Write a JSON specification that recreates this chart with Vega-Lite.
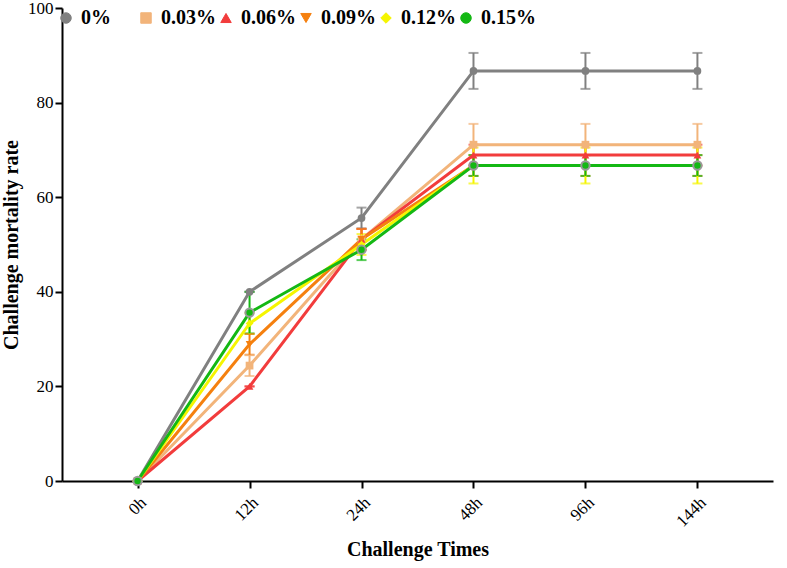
{
  "$schema": "https://vega.github.io/schema/vega-lite/v6.json",
  "width": 711,
  "height": 473,
  "autosize": {"type": "none"},
  "padding": {"left": 62, "top": 8, "right": 14, "bottom": 87},
  "background": "white",
  "config": {
    "view": {"stroke": null},
    "legend": {"labelFont": "Liberation Serif", "labelFontSize": 20, "labelFontWeight": "bold", "labelColor": "#000"}
  },
  "data": {"values": [
    {"series": "0%", "time": "0h", "mean": 0, "lo": 0, "hi": 0},
    {"series": "0%", "time": "12h", "mean": 40, "lo": 40, "hi": 40},
    {"series": "0%", "time": "24h", "mean": 55.6, "lo": 53.4, "hi": 57.8},
    {"series": "0%", "time": "48h", "mean": 86.7, "lo": 82.9, "hi": 90.5},
    {"series": "0%", "time": "96h", "mean": 86.7, "lo": 82.9, "hi": 90.5},
    {"series": "0%", "time": "144h", "mean": 86.7, "lo": 82.9, "hi": 90.5},
    {"series": "0.03%", "time": "0h", "mean": 0, "lo": 0, "hi": 0},
    {"series": "0.03%", "time": "12h", "mean": 24.4, "lo": 22.2, "hi": 26.6},
    {"series": "0.03%", "time": "24h", "mean": 51.1, "lo": 48.9, "hi": 53.3},
    {"series": "0.03%", "time": "48h", "mean": 71.1, "lo": 66.7, "hi": 75.5},
    {"series": "0.03%", "time": "96h", "mean": 71.1, "lo": 66.7, "hi": 75.5},
    {"series": "0.03%", "time": "144h", "mean": 71.1, "lo": 66.7, "hi": 75.5},
    {"series": "0.06%", "time": "0h", "mean": 0, "lo": 0, "hi": 0},
    {"series": "0.06%", "time": "12h", "mean": 20, "lo": 20, "hi": 20},
    {"series": "0.06%", "time": "24h", "mean": 51.1, "lo": 48.9, "hi": 53.3},
    {"series": "0.06%", "time": "48h", "mean": 68.9, "lo": 66.7, "hi": 71.1},
    {"series": "0.06%", "time": "96h", "mean": 68.9, "lo": 66.7, "hi": 71.1},
    {"series": "0.06%", "time": "144h", "mean": 68.9, "lo": 66.7, "hi": 71.1},
    {"series": "0.09%", "time": "0h", "mean": 0, "lo": 0, "hi": 0},
    {"series": "0.09%", "time": "12h", "mean": 28.9, "lo": 26.7, "hi": 31.1},
    {"series": "0.09%", "time": "24h", "mean": 51.1, "lo": 48.9, "hi": 53.3},
    {"series": "0.09%", "time": "48h", "mean": 66.7, "lo": 64.5, "hi": 68.9},
    {"series": "0.09%", "time": "96h", "mean": 66.7, "lo": 64.5, "hi": 68.9},
    {"series": "0.09%", "time": "144h", "mean": 66.7, "lo": 64.5, "hi": 68.9},
    {"series": "0.12%", "time": "0h", "mean": 0, "lo": 0, "hi": 0},
    {"series": "0.12%", "time": "12h", "mean": 33.3, "lo": 31.1, "hi": 35.5},
    {"series": "0.12%", "time": "24h", "mean": 50, "lo": 47.8, "hi": 52.2},
    {"series": "0.12%", "time": "48h", "mean": 66.7, "lo": 62.9, "hi": 70.5},
    {"series": "0.12%", "time": "96h", "mean": 66.7, "lo": 62.9, "hi": 70.5},
    {"series": "0.12%", "time": "144h", "mean": 66.7, "lo": 62.9, "hi": 70.5},
    {"series": "0.15%", "time": "0h", "mean": 0, "lo": 0, "hi": 0},
    {"series": "0.15%", "time": "12h", "mean": 35.6, "lo": 31.2, "hi": 40},
    {"series": "0.15%", "time": "24h", "mean": 48.9, "lo": 46.7, "hi": 51.1},
    {"series": "0.15%", "time": "48h", "mean": 66.7, "lo": 64.5, "hi": 68.9},
    {"series": "0.15%", "time": "96h", "mean": 66.7, "lo": 64.5, "hi": 68.9},
    {"series": "0.15%", "time": "144h", "mean": 66.7, "lo": 64.5, "hi": 68.9}
  ]},
  "encoding": {
    "x": {"field": "time", "type": "ordinal", "sort": ["0h", "12h", "24h", "48h", "96h", "144h"],
      "scale": {"type": "point", "padding": 0.675},
      "axis": {"title": "Challenge Times", "labelAngle": -45, "labelPadding": 6, "titlePadding": 10,
        "labelFont": "Liberation Serif", "labelFontSize": 17, "labelColor": "#000",
        "titleFont": "Liberation Serif", "titleFontSize": 20, "titleFontWeight": "bold", "titleColor": "#000",
        "domainColor": "#000", "domainWidth": 2, "tickColor": "#000", "tickWidth": 2, "tickSize": 7, "grid": false}},
    "color": {"field": "series", "type": "nominal",
      "scale": {"domain": ["0%", "0.03%", "0.06%", "0.09%", "0.12%", "0.15%"], "range": ["#808080", "#F2B47A", "#F23C3C", "#F5800F", "#F5F500", "#14B814"]},
      "legend": {"title": null, "orient": "none", "direction": "horizontal", "legendX": -6, "legendY": 0, "columns": 6, "gridAlign": "all", "columnPadding": 0, "symbolSize": 110, "symbolStrokeWidth": 1, "symbolOpacity": 1, "labelOffset": 5,
        "labelFont": "Liberation Serif", "labelFontSize": 20, "labelFontWeight": "bold", "labelColor": "#000"}}
  },
  "layer": [
    {
      "mark": {"type": "errorbar", "ticks": {"size": 10}, "thickness": 2},
      "encoding": {
        "y": {"field": "lo", "type": "quantitative", "scale": {"domain": [0, 100], "nice": false},
          "axis": {"title": "Challenge mortality rate", "values": [0, 20, 40, 60, 80, 100], "titlePadding": 6,
            "labelFont": "Liberation Serif", "labelFontSize": 17, "labelColor": "#000", "labelPadding": 2,
            "titleFont": "Liberation Serif", "titleFontSize": 20, "titleFontWeight": "bold", "titleColor": "#000",
            "domainColor": "#000", "domainWidth": 2, "tickColor": "#000", "tickWidth": 2, "tickSize": 7, "grid": false}},
        "y2": {"field": "hi"}
      }
    },
    {
      "mark": {"type": "line", "strokeWidth": 3, "clip": false},
      "encoding": {"y": {"field": "mean", "type": "quantitative"}}
    },
    {
      "mark": {"type": "point", "filled": true, "size": 60, "opacity": 1, "clip": false},
      "encoding": {
        "y": {"field": "mean", "type": "quantitative"},
        "shape": {"field": "series", "type": "nominal",
          "scale": {"domain": ["0%", "0.03%", "0.06%", "0.09%", "0.12%", "0.15%"], "range": ["circle", "square", "triangle-up", "triangle-down", "diamond", "circle"]},
          "legend": {"title": null, "orient": "none", "direction": "horizontal", "legendX": -6, "legendY": 0, "columns": 6, "gridAlign": "all", "columnPadding": 0, "symbolSize": 110, "symbolStrokeWidth": 1, "symbolOpacity": 1, "labelOffset": 5,
            "labelFont": "Liberation Serif", "labelFontSize": 20, "labelFontWeight": "bold", "labelColor": "#000"}}
      }
    },
    {
      "transform": [{"filter": "datum.series === '0.15%'"}],
      "mark": {"type": "point", "filled": false, "size": 70, "stroke": "#999999", "strokeWidth": 2, "opacity": 1, "clip": false},
      "encoding": {"y": {"field": "mean", "type": "quantitative"}}
    }
  ]
}
